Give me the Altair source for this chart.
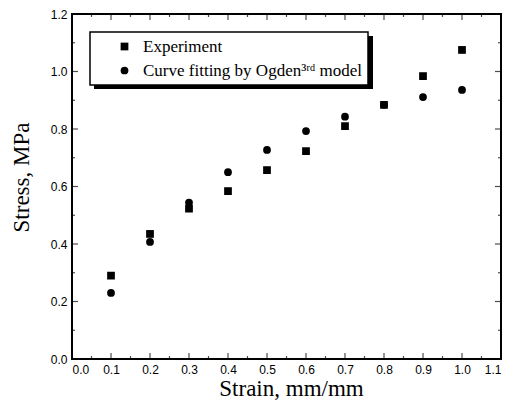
import altair as alt
import pandas as pd

strain = [0.1, 0.2, 0.3, 0.4, 0.5, 0.6, 0.7, 0.8, 0.9, 1.0]
experiment = [0.29, 0.435, 0.523, 0.584, 0.657, 0.723, 0.81, 0.884, 0.984, 1.075]
ogden = [0.23, 0.407, 0.544, 0.65, 0.727, 0.793, 0.843, 0.884, 0.911, 0.936]
series_names = ["Experiment", "Curve fitting by Ogden\u00b3\u02b3\u1d48 model"]

x_major = [0.0, 0.1, 0.2, 0.3, 0.4, 0.5, 0.6, 0.7, 0.8, 0.9, 1.0, 1.1]
x_minor = [0.05, 0.15, 0.25, 0.35, 0.45, 0.55, 0.65, 0.75, 0.85, 0.95, 1.05]
y_major = [0.0, 0.2, 0.4, 0.6, 0.8, 1.0, 1.2]
y_minor = [0.1, 0.3, 0.5, 0.7, 0.9, 1.1]
x_edges = [0.0, 1.1]
y_edges = [0.0, 1.2]

rows = []
for s, e, o in zip(strain, experiment, ogden):
    rows.append({"strain": s, "stress": e, "series": series_names[0]})
    rows.append({"strain": s, "stress": o, "series": series_names[1]})
df = pd.DataFrame(rows)

W, H = 429, 345
xs = alt.Scale(domain=[0, 1.1], nice=False, zero=False)
ys = alt.Scale(domain=[0, 1.2], nice=False, zero=False)

x_axis = alt.Axis(orient="bottom", values=x_major, format=".1f", ticks=False, domain=False,
                  labelPadding=5, titlePadding=2, titleX=219, grid=False)
y_axis = alt.Axis(orient="left", values=y_major, format=".1f", ticks=False, domain=False,
                  labelPadding=5, titlePadding=17, titleY=163, grid=False)


def xenc():
    return alt.X("strain:Q", scale=xs, title="Strain, mm/mm", axis=x_axis)


def yenc():
    return alt.Y("stress:Q", scale=ys, title="Stress, MPa", axis=y_axis)


def x_ticks(values, length):
    d = pd.DataFrame([{"strain": v, "stress": e} for v in values for e in y_edges])
    return alt.Chart(d).mark_tick(orient="vertical", size=length * 2, thickness=1.2,
                                  clip=True, color="black").encode(x=xenc(), y=yenc())


def y_ticks(values, length):
    d = pd.DataFrame([{"strain": e, "stress": v} for v in values for e in x_edges])
    return alt.Chart(d).mark_tick(orient="horizontal", size=length * 2, thickness=1.2,
                                  clip=True, color="black").encode(x=xenc(), y=yenc())


tick_layers = [x_ticks(x_major, 6), x_ticks(x_minor, 3), y_ticks(y_major, 6), y_ticks(y_minor, 3)]

shadow = alt.Chart(pd.DataFrame({"a": [0]})).mark_rect(color="black").encode(
    x=alt.value(22), x2=alt.value(301), y=alt.value(22), y2=alt.value(75)
)

pts = alt.Chart(df).mark_point(filled=True, opacity=1, size=60, color="black").encode(
    x=xenc(),
    y=yenc(),
    shape=alt.Shape("series:N",
                    scale=alt.Scale(domain=series_names, range=["square", "circle"]),
                    legend=alt.Legend(orient="none", legendX=18, legendY=18, title=None,
                                      direction="vertical",
                                      strokeColor="black", fillColor="white",
                                      padding=6, symbolOffset=20, labelOffset=10, rowPadding=6,
                                      labelFont="Liberation Serif", labelFontSize=17,
                                      labelLimit=400,
                                      labelColor="black", symbolSize=60,
                                      symbolFillColor="black", symbolStrokeColor="black")),
)

chart = alt.layer(*tick_layers, shadow, pts).properties(
    width=W, height=H,
    padding={"left": 64, "top": 6, "right": 2, "bottom": 44},
    autosize="none",
).configure_view(
    stroke="black", strokeWidth=2
).configure_legend(
    strokeWidth=1.5
).configure_axis(
    labelFont="Liberation Sans", labelFontSize=12, labelColor="black",
    titleFont="Liberation Serif", titleFontSize=23, titleColor="black",
    titleFontWeight="normal", tickColor="black",
)

chart.save("out.html", embed_options={"renderer": "svg", "actions": False})
